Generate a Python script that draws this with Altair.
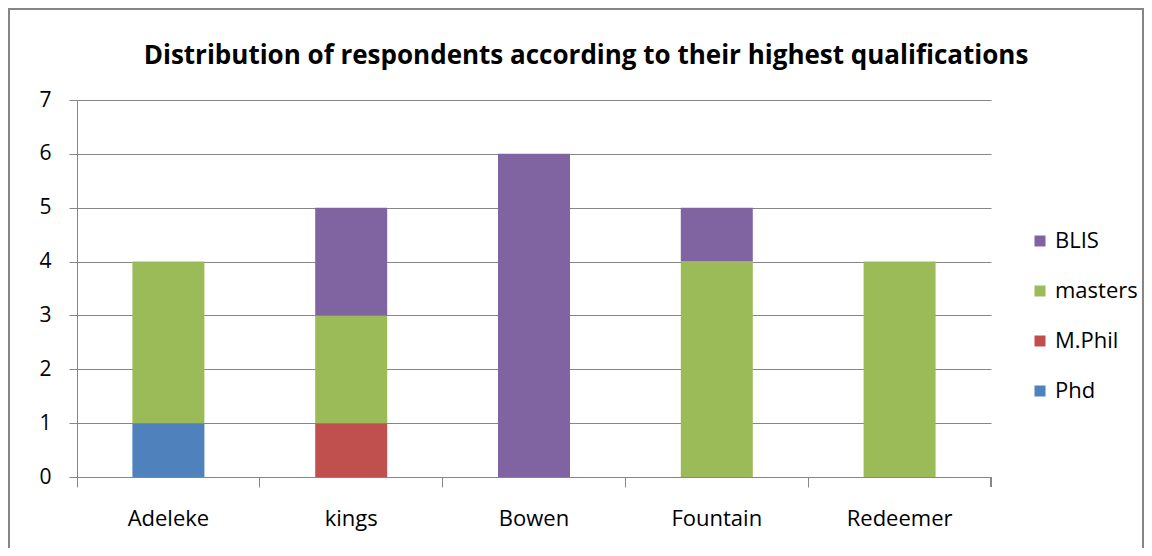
import altair as alt
import pandas as pd

schools = ["Adeleke", "kings", "Bowen", "Fountain", "Redeemer"]
phd = [1, 0, 0, 0, 0]
mphil = [0, 1, 0, 0, 0]
masters = [3, 2, 0, 4, 4]
blis = [0, 2, 6, 1, 0]

series = ["Phd", "M.Phil", "masters", "BLIS"]
colors = ["#4F81BD", "#C0504D", "#9BBB59", "#8064A2"]
values = {"Phd": phd, "M.Phil": mphil, "masters": masters, "BLIS": blis}

rows = []
for s_i, s in enumerate(series):
    for i, sc in enumerate(schools):
        rows.append({"school": sc, "qual": s, "count": values[s][i], "order": s_i})
df = pd.DataFrame(rows)

W, H = 914, 377
FONT = "Open Sans"

bars = alt.Chart(df).mark_bar(size=72).encode(
    x=alt.X("school:N", sort=schools, title=None,
            scale=alt.Scale(paddingInner=0, paddingOuter=0),
            axis=alt.Axis(bandPosition=0, labelAngle=0, tickSize=10, tickColor="#868686",
                          domainColor="#868686", labelFontSize=22, labelFont=FONT,
                          labelColor="#000000", labelPadding=21, grid=False)),
    y=alt.Y("count:Q", stack="zero", title=None,
            scale=alt.Scale(domain=[0, 7], nice=False),
            axis=alt.Axis(values=list(range(8)), tickSize=8, tickColor="#868686",
                          domainColor="#868686", gridColor="#868686", labelFontSize=21,
                          labelFont=FONT, labelColor="#000000", labelPadding=18)),
    color=alt.Color("qual:N", sort=series,
                    scale=alt.Scale(domain=series, range=colors),
                    legend=alt.Legend(title=None, orient="none", legendX=952, legendY=130,
                                      symbolType="square", symbolSize=121, symbolStrokeWidth=0,
                                      labelFontSize=22, labelFont=FONT, labelColor="#000000",
                                      rowPadding=28, labelOffset=4, direction="vertical",
                                      values=["BLIS", "masters", "M.Phil", "Phd"])),
    order=alt.Order("order:Q", sort="ascending"),
)

last_tick = alt.Chart(df).mark_rule(color="#868686").encode(
    x=alt.value(W), y=alt.value(H), y2=alt.value(H + 10)
)

border = alt.Chart(df).mark_rect(fill=None, stroke="#868686", strokeWidth=1.5, clip=False).encode(
    x=alt.value(-68), x2=alt.value(1066), y=alt.value(-91), y2=alt.value(470)
)

chart = alt.layer(border, bars, last_tick).properties(
    width=W, height=H,
    title=alt.Title("Distribution of respondents according to their highest qualifications",
                    fontSize=26, font=FONT, fontWeight="bold", color="#000000",
                    anchor="middle", frame="group", dx=52, offset=-61),
    padding={"left": 69, "top": 92, "right": 153, "bottom": 71},
    autosize=alt.AutoSizeParams(type="none"),
).configure_view(stroke=None).configure_axis(domainWidth=1, gridWidth=1)

chart.save("out.html", embed_options={"renderer": "svg", "actions": False})
